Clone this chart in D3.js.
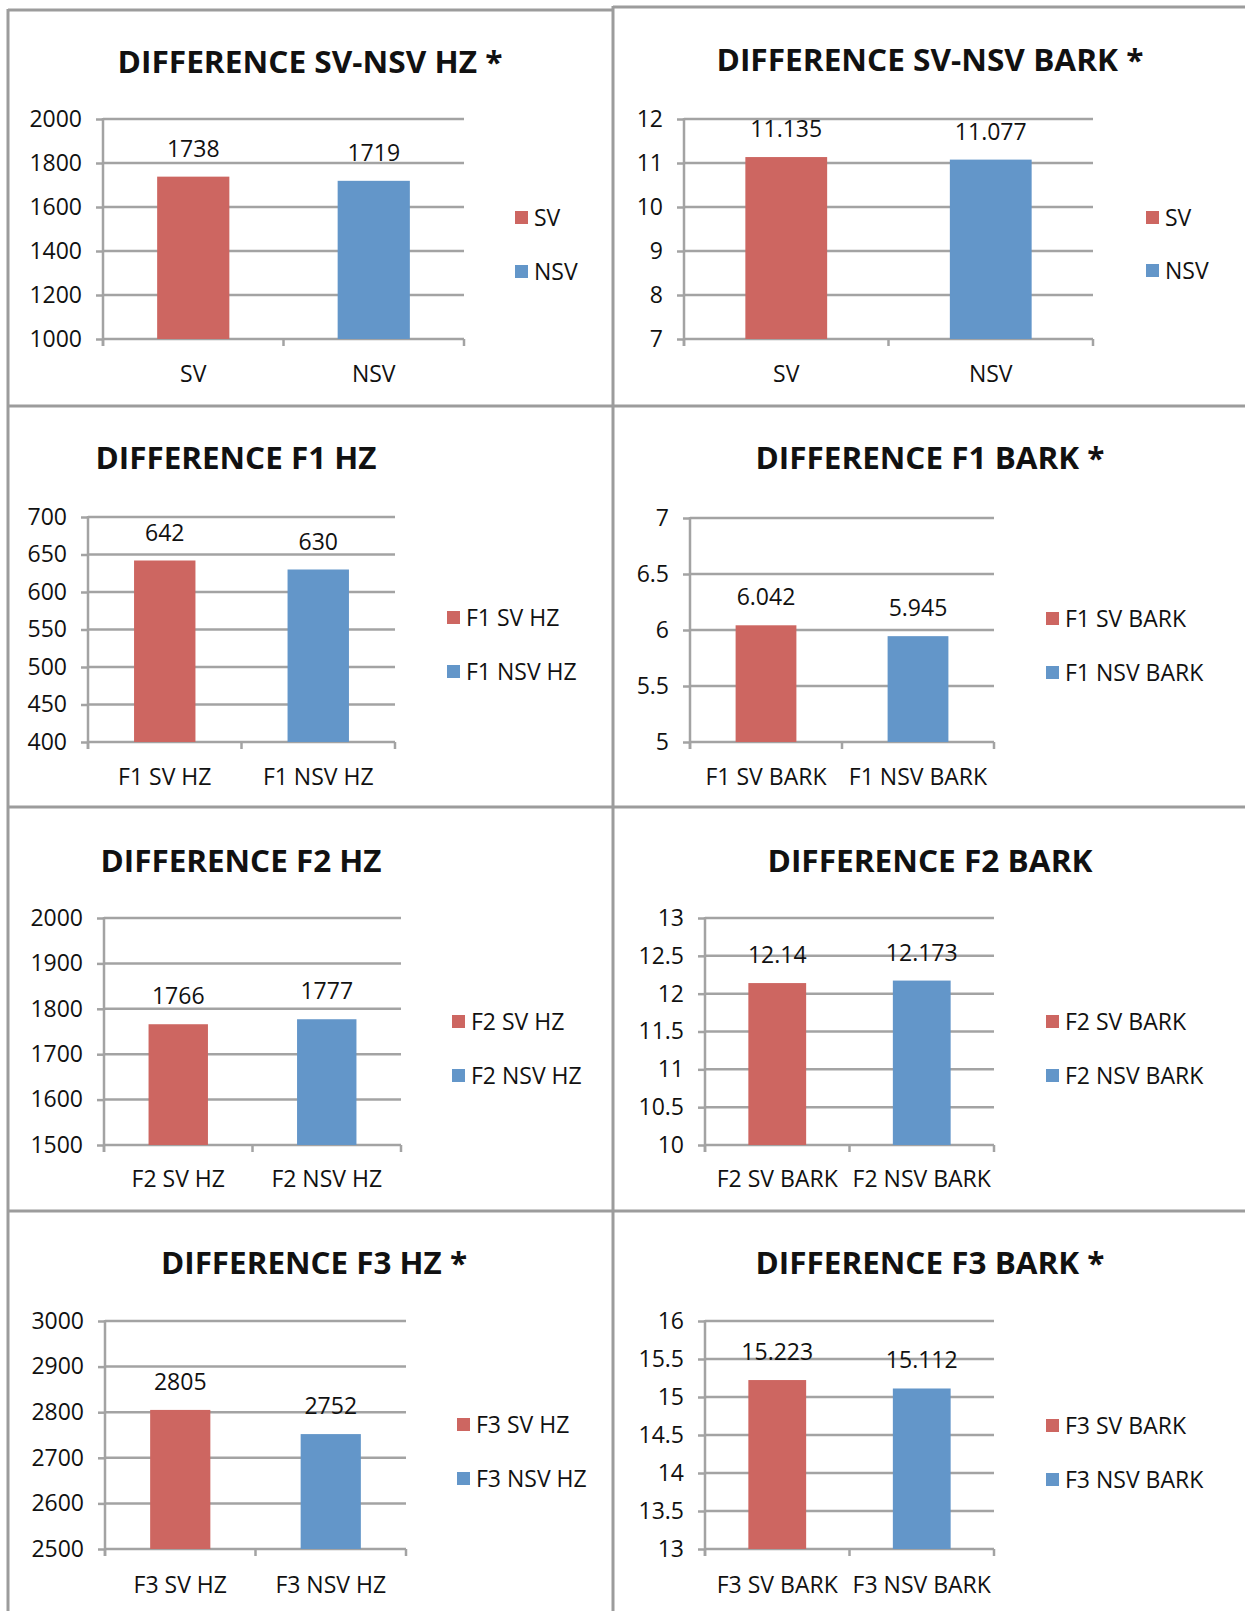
<!DOCTYPE html>
<html><head><meta charset="utf-8">
<script src="https://cdn.jsdelivr.net/npm/d3@7"></script>
<style>
body{margin:0;background:#fff}
svg{display:block}
text{font-family:"Open Sans",sans-serif;fill:#111}
</style></head>
<body><svg id="c" width="1245" height="1611"></svg>
<script>
// ---------- DATA ----------
const titles = [
  "DIFFERENCE SV-NSV HZ *", "DIFFERENCE SV-NSV BARK *",
  "DIFFERENCE F1 HZ", "DIFFERENCE F1 BARK *",
  "DIFFERENCE F2 HZ", "DIFFERENCE F2 BARK",
  "DIFFERENCE F3 HZ *", "DIFFERENCE F3 BARK *"
];
const categories = [
  ["SV", "NSV"], ["SV", "NSV"],
  ["F1 SV HZ", "F1 NSV HZ"], ["F1 SV BARK", "F1 NSV BARK"],
  ["F2 SV HZ", "F2 NSV HZ"], ["F2 SV BARK", "F2 NSV BARK"],
  ["F3 SV HZ", "F3 NSV HZ"], ["F3 SV BARK", "F3 NSV BARK"]
];
const svValues  = [1738, 11.135, 642, 6.042, 1766, 12.14, 2805, 15.223];
const nsvValues = [1719, 11.077, 630, 5.945, 1777, 12.173, 2752, 15.112];
const valueLabels = [
  ["1738", "1719"], ["11.135", "11.077"], ["642", "630"], ["6.042", "5.945"],
  ["1766", "1777"], ["12.14", "12.173"], ["2805", "2752"], ["15.223", "15.112"]
];
const yTicks = [
  [1000, 1200, 1400, 1600, 1800, 2000],
  [7, 8, 9, 10, 11, 12],
  [400, 450, 500, 550, 600, 650, 700],
  [5, 5.5, 6, 6.5, 7],
  [1500, 1600, 1700, 1800, 1900, 2000],
  [10, 10.5, 11, 11.5, 12, 12.5, 13],
  [2500, 2600, 2700, 2800, 2900, 3000],
  [13, 13.5, 14, 14.5, 15, 15.5, 16]
];
const seriesColors = ["#CD6661", "#6396C9"];

// ---------- LAYOUT ----------
const layout = [
  {ax:103, top:119, bot:339, right:464, lx:515, ly:[218,272], tcx:310, ty:73,  tw:385, cy:382},
  {ax:684, top:119, bot:339, right:1093,lx:1146,ly:[218,271], tcx:930, ty:71,  tw:427, cy:382},
  {ax:88,  top:517, bot:742, right:395, lx:447, ly:[618,672], tcx:236, ty:469, tw:281, cy:785},
  {ax:690, top:518, bot:742, right:994, lx:1046,ly:[619,673], tcx:930, ty:469, tw:349, cy:785},
  {ax:104, top:918, bot:1145,right:401, lx:452, ly:[1022,1076],tcx:241, ty:872, tw:281, cy:1187},
  {ax:705, top:918, bot:1145,right:994, lx:1046,ly:[1022,1076],tcx:930, ty:872, tw:325, cy:1187},
  {ax:105, top:1321,bot:1549,right:406, lx:457, ly:[1425,1479],tcx:314, ty:1274,tw:306, cy:1593},
  {ax:705, top:1321,bot:1549,right:994, lx:1046,ly:[1426,1480],tcx:930, ty:1274,tw:349, cy:1593}
];
const gridColor = "#A3A3A3";
const borderColor = "#9C9C9C";
const fs = 23;

const svg = d3.select("#c");

// panel borders
const bl = [
  [8, 9, 8, 1611], [613, 6, 613, 1611],
  [8, 10, 613, 10], [613, 7, 1245, 7],
  [8, 406, 1245, 406], [8, 807, 1245, 807], [8, 1211, 1245, 1211]
];
svg.selectAll("line.border").data(bl).join("line")
  .attr("class","border")
  .attr("x1",d=>d[0]).attr("y1",d=>d[1]).attr("x2",d=>d[2]).attr("y2",d=>d[3])
  .attr("stroke",borderColor).attr("stroke-width",3);

layout.forEach((L, i) => {
  const g = svg.append("g");
  const ticks = yTicks[i];
  const y = d3.scaleLinear().domain([ticks[0], ticks[ticks.length-1]]).range([L.bot, L.top]);
  const x = d3.scaleBand().domain(categories[i]).range([L.ax, L.right]).paddingInner(0).paddingOuter(0);
  const step = x.step();

  // gridlines
  g.selectAll("line.grid").data(ticks).join("line")
    .attr("x1", L.ax).attr("x2", L.right)
    .attr("y1", d => y(d)).attr("y2", d => y(d))
    .attr("stroke", gridColor).attr("stroke-width", 2.5);

  // y axis
  const yAxis = d3.axisLeft(y).tickValues(ticks).tickSize(7).tickPadding(14)
    .tickFormat(d => String(d));
  const ya = g.append("g").attr("transform", `translate(${L.ax},0)`).call(yAxis);
  ya.select(".domain").remove();
  ya.selectAll(".tick line").attr("stroke", gridColor).attr("stroke-width", 2.5);
  ya.selectAll(".tick text").attr("font-size", fs).attr("fill", "#111")
    .attr("font-family", '"Open Sans", sans-serif');
  g.append("line").attr("x1", L.ax).attr("x2", L.ax).attr("y1", L.top - 1).attr("y2", L.bot + 7)
    .attr("stroke", gridColor).attr("stroke-width", 2.5);

  // x-axis boundary ticks
  const bounds = [L.ax, L.ax + step, L.right];
  g.selectAll("line.xt").data(bounds).join("line")
    .attr("x1", d => d).attr("x2", d => d).attr("y1", L.bot).attr("y2", L.bot + 7)
    .attr("stroke", gridColor).attr("stroke-width", 2.5);

  // bars
  const vals = [svValues[i], nsvValues[i]];
  g.selectAll("rect.bar").data(vals).join("rect")
    .attr("x", (d, j) => x(categories[i][j]) + step * 0.3)
    .attr("width", step * 0.4)
    .attr("y", d => y(d))
    .attr("height", d => L.bot - y(d))
    .attr("fill", (d, j) => seriesColors[j]);

  // value labels
  g.selectAll("text.val").data(vals).join("text")
    .attr("x", (d, j) => x(categories[i][j]) + step / 2)
    .attr("y", d => y(d) - 20)
    .attr("text-anchor", "middle").attr("font-size", fs)
    .text((d, j) => valueLabels[i][j]);

  // category labels
  g.selectAll("text.cat").data(categories[i]).join("text")
    .attr("x", d => x(d) + step / 2)
    .attr("y", L.cy)
    .attr("text-anchor", "middle").attr("font-size", fs)
    .text(d => d);

  // title
  g.append("text").attr("x", L.tcx).attr("y", L.ty)
    .attr("text-anchor", "middle").attr("font-size", 31).attr("font-weight", "bold")
    .attr("textLength", L.tw).attr("lengthAdjust", "spacingAndGlyphs")
    .text(titles[i]);

  // legend
  categories[i].forEach((c, j) => {
    g.append("rect").attr("x", L.lx).attr("y", L.ly[j] - 7).attr("width", 13).attr("height", 13)
      .attr("fill", seriesColors[j]);
    g.append("text").attr("x", L.lx + 19).attr("y", L.ly[j] + 8)
      .attr("font-size", fs).text(c);
  });
});
</script>
</body></html>
